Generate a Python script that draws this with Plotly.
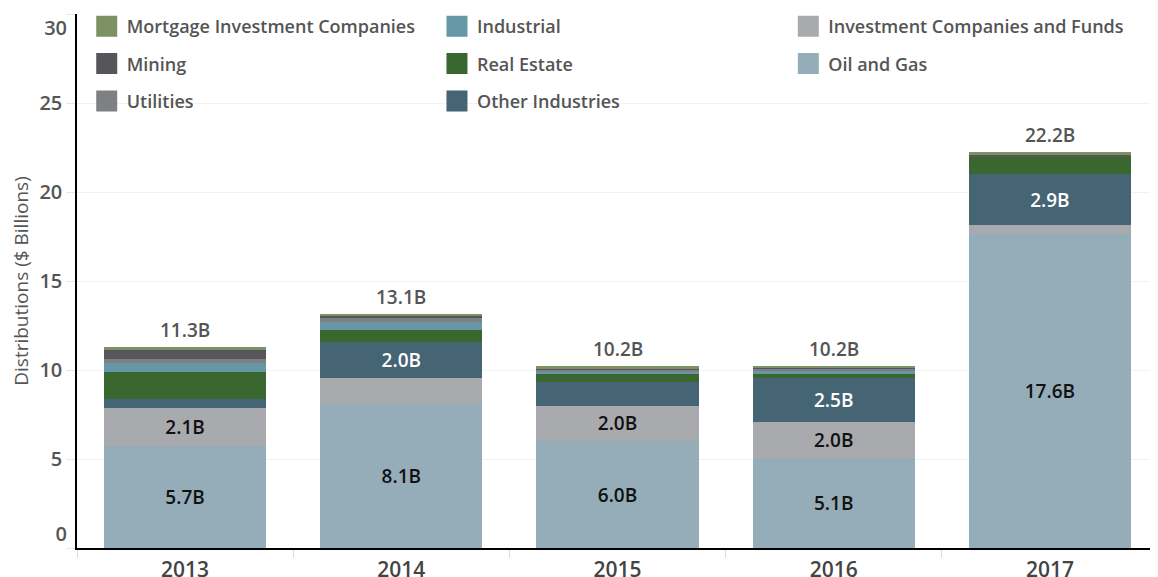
import plotly.graph_objects as go

years = ["2013", "2014", "2015", "2016", "2017"]

oil_gas = [5.74, 8.1, 6.0, 5.08, 17.62]
investment_cos = [2.14, 1.45, 2.0, 2.0, 0.5]
other_industries = [0.5, 2.0, 1.35, 2.46, 2.88]
real_estate = [1.5, 0.7, 0.4, 0.28, 0.98]
industrial = [0.5, 0.45, 0.15, 0.11, 0.0]
utilities = [0.22, 0.25, 0.13, 0.18, 0.0]
mining = [0.51, 0.1, 0.08, 0.03, 0.11]
mortgage = [0.19, 0.08, 0.1, 0.1, 0.13]

y_ticks = [0, 5, 10, 15, 20, 25, 30]

FONT = "Open Sans"

# (name, values, color, label color, legend id, legend rank)
series = [
    ("Oil and Gas", oil_gas, "#95adb9", "#111111", "legend3", 2),
    ("Investment Companies and Funds", investment_cos, "#a9aaae", "#111111", "legend3", 1),
    ("Other Industries", other_industries, "#456474", "#ffffff", "legend2", 3),
    ("Real Estate", real_estate, "#3a6630", "#ffffff", "legend2", 2),
    ("Industrial", industrial, "#6597a6", "#ffffff", "legend2", 1),
    ("Utilities", utilities, "#7f8084", "#ffffff", "legend", 3),
    ("Mining", mining, "#555659", "#ffffff", "legend", 2),
    ("Mortgage Investment Companies", mortgage, "#7d9263", "#ffffff", "legend", 1),
]

fig = go.Figure()
for name, vals, color, tcolor, leg, rank in series:
    fig.add_trace(go.Bar(
        x=years, y=vals, name=name,
        marker=dict(color=color, line=dict(width=0)),
        text=[f"{v:.1f}B" if v >= 1.9 else "" for v in vals],
        textposition="inside", insidetextanchor="middle",
        textfont=dict(family=FONT, size=19, color=tcolor, weight=600),
        constraintext="none",
        showlegend=False, hoverinfo="skip",
    ))
    # legend-only entry with a larger square swatch
    fig.add_trace(go.Scatter(
        x=[None], y=[None], mode="markers", name=name,
        marker=dict(symbol="square", size=16, color=color,
                    line=dict(color=color, width=5)),
        legend=leg, legendrank=rank, legendgroup=name,
        hoverinfo="skip",
    ))

# empty helper traces so the overlay axes carrying the edge tick labels get drawn
for ax in ("y2", "y3"):
    fig.add_trace(go.Scatter(x=[years[0]], y=[None], yaxis=ax, mode="markers",
                             showlegend=False, hoverinfo="skip"))

totals = [sum(s[1][i] for s in series) for i in range(len(years))]
for i, t in enumerate(totals):
    # category axis: annotation x given as category index
    fig.add_annotation(
        x=i, y=t, xref="x", yref="y", text=f"{t:.1f}B", showarrow=False,
        yanchor="bottom", yshift=2,
        font=dict(family=FONT, size=19, color="#555555", weight=600),
    )

legend_common = dict(
    orientation="v", yanchor="top", y=1.012, xanchor="left",
    font=dict(family=FONT, size=18, color="#555555", weight=600),
    traceorder="grouped", tracegroupgap=11, bgcolor="rgba(0,0,0,0)",
    itemsizing="trace",
)

y_min, y_max = y_ticks[0], y_ticks[-1]
tick_font = dict(family=FONT, size=20, color="#555555", weight=600)
edge_axis = dict(
    range=[y_min, y_max], overlaying="y", anchor="x", side="left",
    showgrid=False, showline=False, zeroline=False, ticks="",
    tickfont=tick_font, ticklabelstandoff=9, ticklabeloverflow="allow",
    automargin=False,
)

fig.update_layout(
    width=1150, height=569,
    margin=dict(l=69, r=0, t=6, b=29),
    paper_bgcolor="white", plot_bgcolor="white",
    barmode="stack", bargap=0.25,
    font=dict(family=FONT, color="#555555"),
    legend=dict(x=0.009, **legend_common),
    legend2=dict(x=0.333, **legend_common),
    legend3=dict(x=0.658, **legend_common),
    xaxis=dict(
        type="category", automargin=False,
        categoryorder="array", categoryarray=years,
        showline=True, linecolor="#000000", linewidth=1.5,
        ticks="outside", tickson="boundaries", ticklen=8, tickcolor="#dddddd",
        tickfont=dict(family=FONT, size=21, color="#444444", weight=600),
        ticklabelstandoff=2,
        showgrid=False,
    ),
    yaxis=dict(
        range=[y_min, y_max], tickvals=y_ticks,
        ticktext=["" if v in (y_min, y_max) else str(v) for v in y_ticks],
        showline=True, linecolor="#000000", linewidth=1.5,
        ticks="outside", ticklen=9, tickcolor="#e6e6e6",
        showgrid=True, gridcolor="#f2f2f2",
        zeroline=False, automargin=False,
        tickfont=tick_font,
        title=dict(text="Distributions ($ Billions)",
                   font=dict(family=FONT, size=19, color="#555555"), standoff=8),
    ),
    yaxis2=dict(tickvals=[y_max], ticktext=[str(y_max)],
                ticklabelposition="outside bottom", **edge_axis),
    yaxis3=dict(tickvals=[y_min], ticktext=[str(y_min)],
                ticklabelposition="outside top", **edge_axis),
)

fig.write_html("out.html")
